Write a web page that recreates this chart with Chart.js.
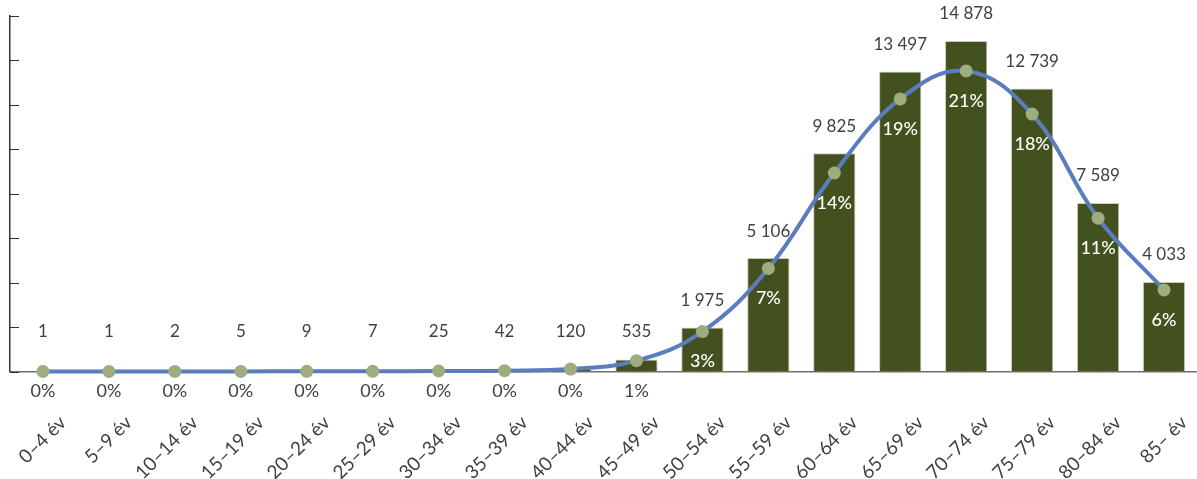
<!DOCTYPE html>
<html>
<head>
<meta charset="utf-8">
<script src="https://cdn.jsdelivr.net/npm/chart.js@4"></script>
<style>
  html, body { margin: 0; padding: 0; background: #fff; }
  #wrap { width: 1197px; height: 479px; }
</style>
</head>
<body>
<div id="wrap"><canvas id="c" width="1197" height="479"></canvas></div>
<script>
const categories = ['0–4 év','5–9 év','10–14 év','15–19 év','20–24 év','25–29 év','30–34 év','35–39 év','40–44 év','45–49 év','50–54 év','55–59 év','60–64 év','65–69 év','70–74 év','75–79 év','80–84 év','85– év'];
const counts = [1,1,2,5,9,7,25,42,120,535,1975,5106,9825,13497,14878,12739,7589,4033];
const shares = [0.0014,0.0014,0.0028,0.0071,0.0128,0.0099,0.0355,0.0597,0.1705,0.76,2.81,7.25,13.96,19.17,21.14,18.10,10.78,5.73];
const countAxis = { min: 0, max: 16000, step: 2000 };
const shareAxis = { min: 0, max: 25 };

const FONT = 'Lato, "Open Sans", sans-serif';
const TEXT = '#404040';

function fmt(n) {
  return String(n).replace(/\B(?=(\d{3})+(?!\d))/g, ' ');
}

const labelPlugin = {
  id: 'labels',
  afterDatasetsDraw(chart) {
    const ctx = chart.ctx;
    const y = chart.scales.y;
    const base = y.getPixelForValue(0);
    ctx.save();
    ctx.strokeStyle = '#333';
    ctx.lineWidth = 1;
    for (let v = countAxis.min; v <= countAxis.max; v += countAxis.step) {
      const py = Math.round(y.getPixelForValue(v)) + 0.5;
      ctx.beginPath();
      ctx.moveTo(chart.chartArea.left, py);
      ctx.lineTo(chart.chartArea.left + 9, py);
      ctx.stroke();
    }
    const barMeta = chart.getDatasetMeta(1);
    const lineMeta = chart.getDatasetMeta(0);
    ctx.textAlign = 'center';
    ctx.textBaseline = 'middle';
    barMeta.data.forEach((bar, i) => {
      const top = bar.y;
      const ly = Math.min(top - 27, base - 40);
      ctx.font = '17px ' + FONT;
      ctx.fillStyle = TEXT;
      ctx.fillText(fmt(counts[i]), bar.x, ly);
      const pt = lineMeta.data[i];
      const py = Math.min(pt.y + 30, base + 20);
      const inside = (py + 8 < base) && (py - 8 > top);
      ctx.font = (inside ? '500 18px ' : '18px ') + FONT;
      ctx.fillStyle = inside ? '#ffffff' : TEXT;
      ctx.fillText(Math.round(shares[i]) + '%', bar.x, py);
    });
    ctx.restore();
  }
};

new Chart(document.getElementById('c'), {
  data: {
    labels: categories,
    datasets: [
      {
        type: 'line',
        data: shares,
        yAxisID: 'y2',
        borderColor: '#5B7DBE',
        borderWidth: 4,
        tension: 0.4,
        pointRadius: 6.5,
        pointBackgroundColor: '#9EAD7E',
        pointBorderColor: '#9EAD7E',
        pointBorderWidth: 0,
        fill: false,
        clip: false,
        order: 0
      },
      {
        type: 'bar',
        data: counts,
        yAxisID: 'y',
        backgroundColor: '#43511F',
        borderColor: '#C9D0B8',
        borderWidth: { top: 1, left: 1, right: 1, bottom: 0 },
        borderSkipped: false,
        categoryPercentage: 1,
        barPercentage: 0.642,
        order: 1
      }
    ]
  },
  options: {
    responsive: false,
    animation: false,
    devicePixelRatio: 1,
    layout: { autoPadding: false, padding: { top: 16, left: 10, right: 0, bottom: 0 } },
    plugins: { legend: { display: false }, tooltip: { enabled: false } },
    scales: {
      x: {
        offset: true,
        grid: { display: false, drawTicks: false },
        border: { display: true, color: '#6f6f6f', width: 1.5 },
        ticks: {
          font: { family: FONT, size: 19 },
          color: TEXT,
          minRotation: 45,
          maxRotation: 45,
          autoSkip: false,
          padding: 40,
          labelOffset: 20
        },
        afterFit(s) { s.height = 107.5; s.paddingLeft = 0; s.paddingRight = 0; }
      },
      y: {
        min: countAxis.min,
        max: countAxis.max,
        ticks: { display: false, stepSize: countAxis.step },
        grid: { display: false, drawTicks: false },
        border: { display: true, color: '#333', width: 1.5 },
        afterFit(s) { s.width = 0; }
      },
      y2: {
        position: 'right',
        min: shareAxis.min,
        max: shareAxis.max,
        display: false
      }
    }
  },
  plugins: [labelPlugin]
});
</script>
</body>
</html>
